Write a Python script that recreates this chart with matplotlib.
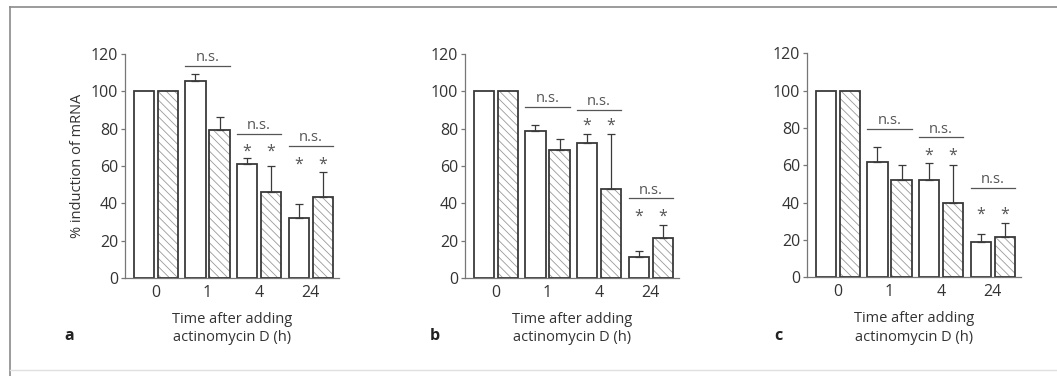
import numpy as np
import matplotlib.pyplot as plt
from matplotlib.lines import Line2D

plt.rcParams['font.family'] = ['Open Sans', 'DejaVu Sans']
plt.rcParams['hatch.linewidth'] = 0.6

times = ['0', '1', '4', '24']

# panel a
white_a = [100, 105.5, 61.2, 32.3]
white_err_a = [0, 3.8, 2.9, 7.2]
hatch_a = [100, 79.3, 46.0, 43.6]
hatch_err_a = [0, 7.1, 14.2, 13.0]
ns_a = [None, 113.8, 77.3, 70.9]
star_a = [None, None, 67.5, 60.5]

# panel b
white_b = [100, 78.7, 72.3, 11.0]
white_err_b = [0, 3.5, 5.0, 3.5]
hatch_b = [100, 68.4, 47.9, 21.4]
hatch_err_b = [0, 6.2, 29.4, 7.2]
ns_b = [None, 91.8, 90.2, 42.7]
star_b = [None, None, 81.5, 33.0]

# panel c
white_c = [100, 61.6, 52.0, 18.8]
white_err_c = [0, 8.4, 9.0, 4.3]
hatch_c = [100, 52.0, 39.9, 21.5]
hatch_err_c = [0, 8.4, 20.5, 7.5]
ns_c = [None, 79.6, 75.0, 48.0]
star_c = [None, None, 65.0, 33.5]

edge = '#3a3a3a'
grey = '#555555'
W = 1057
H = 376


def draw_panel(ax, white, white_err, hatch, hatch_err, ns, star):
    x = np.arange(len(times))
    bw = 0.39
    off = 0.233
    ax.bar(x - off, white, bw, color='white', edgecolor=edge, linewidth=1.3, zorder=2)
    ax.bar(x + off, hatch, bw, color='white', edgecolor='#9a9a9a', hatch='\\\\\\\\',
           linewidth=0, zorder=2)
    ax.bar(x + off, hatch, bw, color='none', edgecolor=edge, linewidth=1.3, zorder=3)
    for xs, vals, errs in [(x - off, white, white_err), (x + off, hatch, hatch_err)]:
        for xi, v, e in zip(xs, vals, errs):
            if e > 0:
                ax.errorbar(xi, v, yerr=[[0], [e]], color=edge, linewidth=0.9,
                            capsize=3, capthick=0.9, zorder=4)
    for i in range(len(times)):
        if ns[i] is not None:
            ax.plot([i - off - bw / 2, i + off + bw / 2], [ns[i], ns[i]],
                    color=grey, linewidth=0.9, zorder=4)
            ax.text(i, ns[i] + 0.3, 'n.s.', ha='center', va='bottom',
                    fontsize=10.5, color=grey)
        if star[i] is not None:
            for xi in [i - off, i + off]:
                ax.text(xi, star[i], '*', ha='center', va='center',
                        fontsize=11.5, color=grey)
    ax.set_xlim(-0.6, 3.55)
    ax.set_ylim(0, 120)
    ax.set_yticks(range(0, 121, 20))
    ax.set_xticks(x)
    ax.set_xticklabels(times)
    for s in ['top', 'right']:
        ax.spines[s].set_visible(False)
    for s in ['left', 'bottom']:
        ax.spines[s].set_color('#777777')
        ax.spines[s].set_linewidth(0.9)
    ax.tick_params(axis='y', length=3, width=0.9, color='#777777',
                   labelsize=11.5, labelcolor='#333333', pad=2)
    ax.tick_params(axis='x', length=0, labelsize=11.5, labelcolor='#333333', pad=5)
    ax.set_xlabel('Time after adding\nactinomycin D (h)', fontsize=10.5,
                  color='#333333', labelpad=8, linespacing=1.3)


fig = plt.figure(figsize=(W / 100, H / 100), dpi=100)

ax_w = 214 / W
ax_b = (H - 278) / H
ax_h = 224 / H

ax_a = fig.add_axes([125 / W, ax_b, ax_w, ax_h])
ax_b_ = fig.add_axes([465 / W, ax_b, ax_w, ax_h])
ax_c = fig.add_axes([807 / W, (H - 277.3) / H, ax_w, ax_h])

draw_panel(ax_a, white_a, white_err_a, hatch_a, hatch_err_a, ns_a, star_a)
draw_panel(ax_b_, white_b, white_err_b, hatch_b, hatch_err_b, ns_b, star_b)
draw_panel(ax_c, white_c, white_err_c, hatch_c, hatch_err_c, ns_c, star_c)

ax_a.set_ylabel('% induction of mRNA', fontsize=10.5, color='#333333', labelpad=4)

for letter, px in [('a', 69), ('b', 435), ('c', 778)]:
    fig.text(px / W, 1 - 336 / H, letter, fontsize=11.5, fontweight='bold',
             color='#222222', ha='center', va='center')

# frame around the figure
fig.add_artist(Line2D([10 / W, 1], [1 - 7 / H, 1 - 7 / H], color='#8a8a8a', linewidth=1.2))
fig.add_artist(Line2D([10 / W, 10 / W], [1 - 7 / H, 0], color='#8a8a8a', linewidth=1.2))
fig.add_artist(Line2D([10 / W, 1], [1 - 370 / H, 1 - 370 / H], color='#e0e0e0', linewidth=1.0))

fig.savefig('out.png', dpi=100)
